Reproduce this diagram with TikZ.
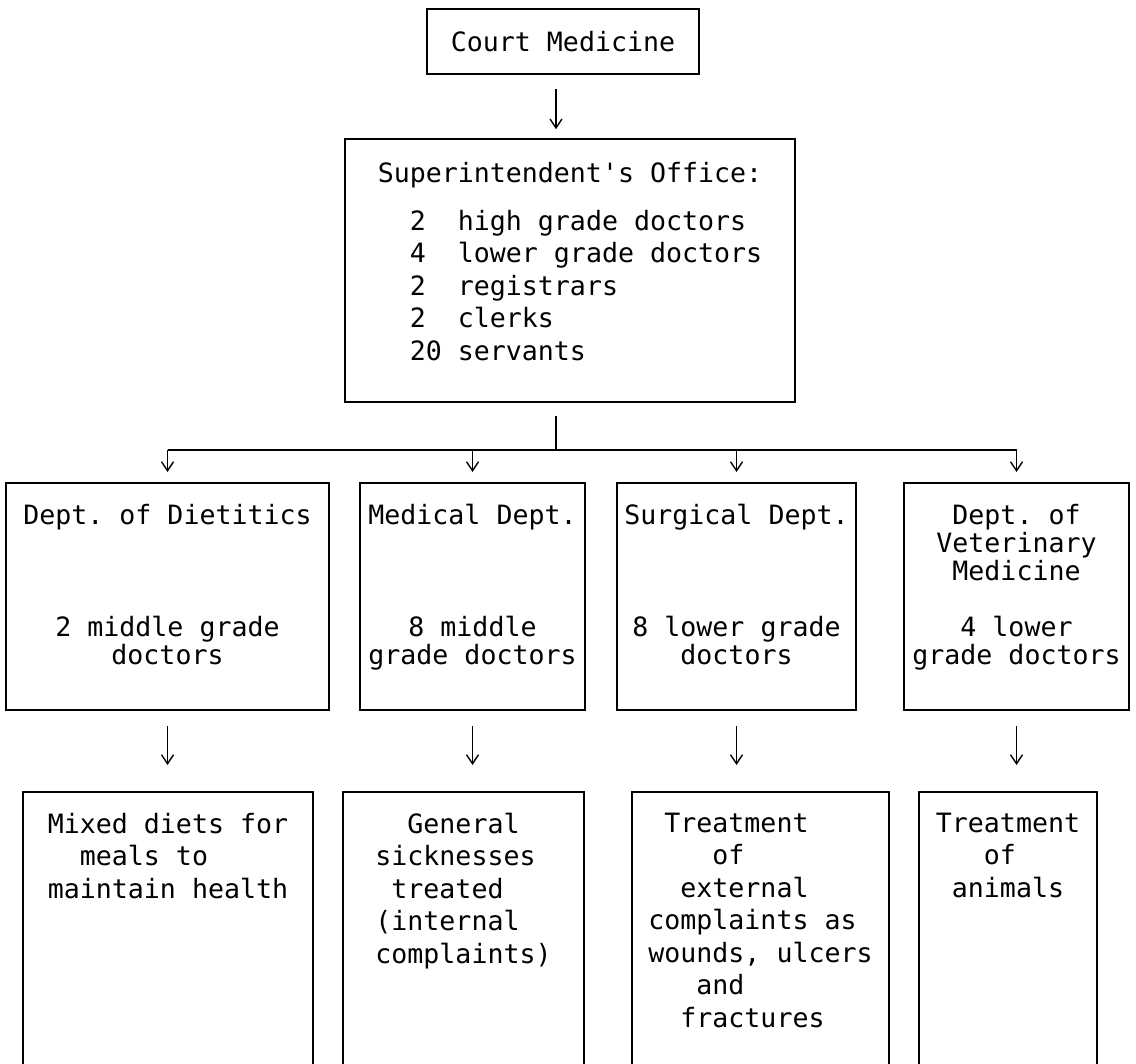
\documentclass[tikz,border=0pt]{standalone}
\usepackage{fontspec}
\usepackage{tikz}
\usetikzlibrary{arrows.meta, positioning}
\newfontfamily\typewriter{DejaVu Sans Mono}

\begin{document}
\begin{tikzpicture}[
  x=1pt, y=-1pt, line width=1.4pt,
  head/.style={draw, line width=1.6pt, font=\fontsize{26.6}{32.5}\typewriter\frenchspacing},
  unit/.style={draw, line width=1.6pt, anchor=north, align=center, inner xsep=3pt, inner ysep=21pt, text depth=25pt, minimum height=227pt, font=\fontsize{26.6}{28}\typewriter\frenchspacing},
  task/.style={draw, line width=1.6pt, anchor=north, align=left, inner xsep=3pt, inner ysep=21pt, text depth=300pt, font=\fontsize{26.6}{32.5}\typewriter\frenchspacing},
  arr/.style={-{Straight Barb[length=9pt,width=12pt]}},
]
  \useasboundingbox (0,0) rectangle (1136,1064);

  % Top of the chart
  \node[head, minimum width=272pt, minimum height=65pt] (court) at (563,41.5) {Court Medicine};
  \node[head, minimum width=450pt, minimum height=263pt, align=left, text depth=19pt] (super) at (570,270.5)
    {Superintendent's Office:\\[15.5pt]
     \ \ 2\ \ high grade doctors\\
     \ \ 4\ \ lower grade doctors\\
     \ \ 2\ \ registrars\\
     \ \ 2\ \ clerks\\
     \ \ 20 servants};

  % Departments
  \node[unit, minimum width=323pt] (d1) at (167.5,482) {Dept. of Dietitics\\[84pt]2 middle grade\\doctors};
  \node[unit, minimum width=225pt] (d2) at (472.5,482) {Medical Dept.\\[84pt]8 middle\\grade doctors};
  \node[unit, minimum width=239pt] (d3) at (736.5,482) {Surgical Dept.\\[84pt]8 lower grade\\doctors};
  \node[unit, minimum width=225pt] (d4) at (1016.5,482) {Dept. of\\Veterinary\\Medicine\\[28pt]4 lower\\grade doctors};

  % What each department does
  \node[task, minimum width=290pt] (b1) at (168,791)
    {Mixed diets for\\ \ \ meals to\\maintain health};
  \node[task, minimum width=241pt] (b2) at (463.5,791)
    {\ \ General\\sicknesses\\ \ treated\\(internal\\complaints)};
  \node[task, minimum width=257pt] (b3) at (760.5,791)
    {\ Treatment\\ \ \ \ \ of\\ \ \ external\\complaints as\\wounds, ulcers\\ \ \ \ and\\ \ \ fractures};
  \node[task, minimum width=178pt] (b4) at (1008,791)
    {Treatment\\ \ \ \ of\\ \ animals};

  % Connectors
  \coordinate (bus) at (556,450);
  \draw[arr, shorten <=14pt, shorten >=9pt] (court.south -| bus) -- (super.north -| bus);
  \draw[shorten <=13pt] (super.south -| bus) -- (bus);
  \draw (d1.north |- bus) -- (d4.north |- bus);
  \foreach \dep in {d1,d2,d3,d4}
    \draw[arr, shorten >=10pt] (\dep.north |- bus) -- (\dep.north);
  \foreach \dep/\res in {d1/b1,d2/b2,d3/b3,d4/b4}
    \draw[arr, shorten <=15pt, shorten >=26pt] (\dep.south) -- (\dep.south |- \res.north);
\end{tikzpicture}
\end{document}
